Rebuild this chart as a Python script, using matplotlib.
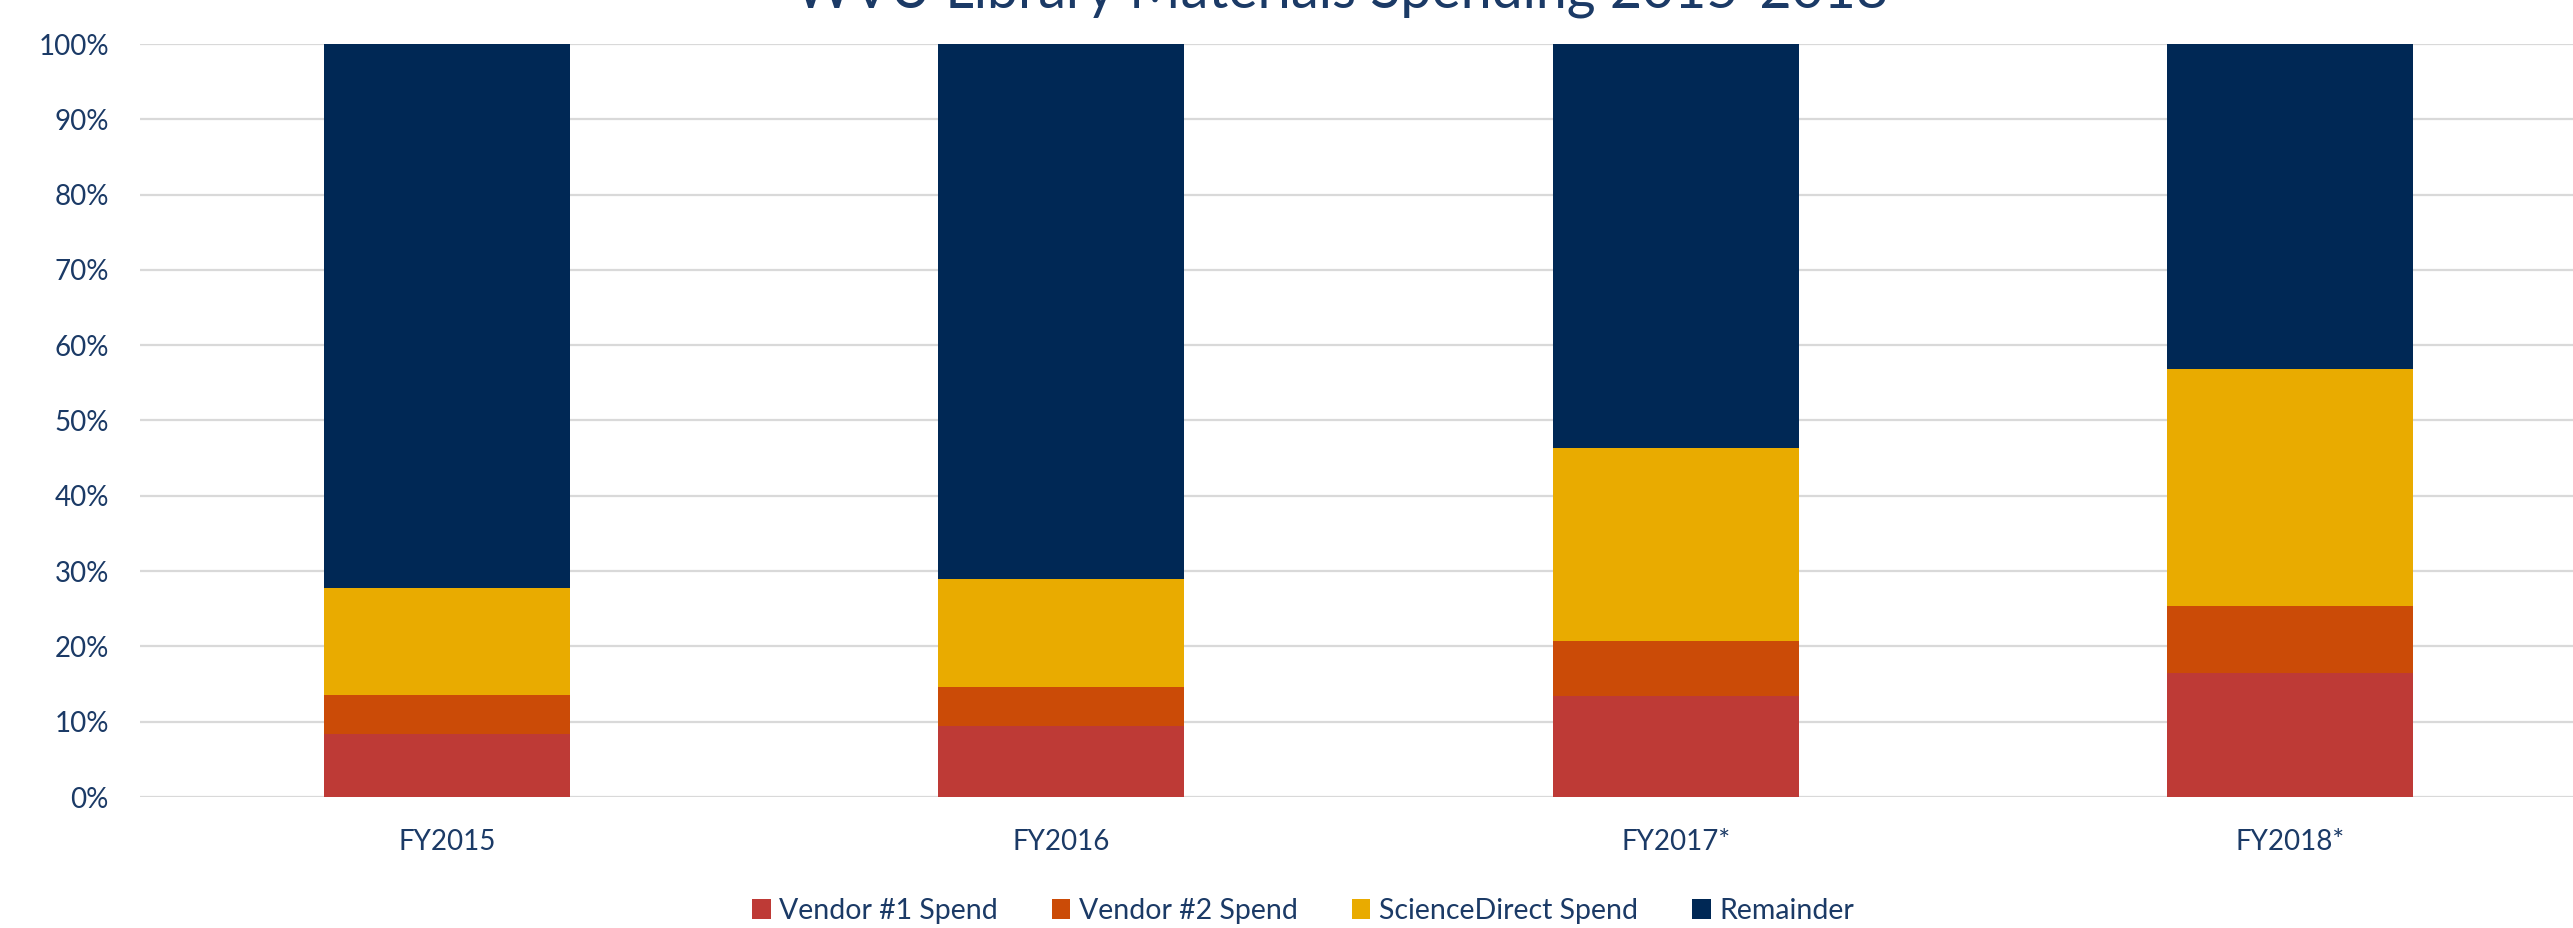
import matplotlib

matplotlib.use("Agg")
import matplotlib.pyplot as plt
from matplotlib.ticker import PercentFormatter

# share of materials spending per fiscal year (percent)
years = ["FY2015", "FY2016", "FY2017*", "FY2018*"]
vendor1 = [8.4, 9.4, 13.4, 16.5]
vendor2 = [5.2, 5.2, 7.3, 8.9]
sciencedirect = [14.1, 14.4, 25.6, 31.4]
remainder = [100 - a - b - c for a, b, c in zip(vendor1, vendor2, sciencedirect)]

series = [
    ("Vendor #1 Spend", vendor1, "#BE3A36"),
    ("Vendor #2 Spend", vendor2, "#CB4B07"),
    ("ScienceDirect Spend", sciencedirect, "#E9AB00"),
    ("Remainder", remainder, "#002855"),
]
TXT = "#1B3A66"

plt.rcParams["font.family"] = ["Lato", "DejaVu Sans"]

W, H = 2573, 928
fig = plt.figure(figsize=((W + 0.01) / 100, (H + 0.01) / 100), dpi=100)
ax = fig.add_axes([139.5 / W, 131 / H, 2458 / W, 753 / H])

x = range(len(years))
bottom = [0] * len(years)
for name, vals, color in series:
    ax.bar(x, vals, width=0.4, bottom=bottom, color=color, label=name, zorder=3)
    bottom = [b + v for b, v in zip(bottom, vals)]

ax.set_xlim(-0.5, 3.5)
ax.set_ylim(0, 100)
ax.set_yticks(range(0, 101, 10))
ax.yaxis.set_major_formatter(PercentFormatter(decimals=0))
ax.set_xticks(list(x))
ax.set_xticklabels(years)
ax.tick_params(axis="both", length=0, labelsize=20, labelcolor=TXT)
ax.tick_params(axis="y", pad=22)
ax.tick_params(axis="x", pad=23)
ax.grid(axis="y", color="#D9D9D9", lw=1.6, zorder=0)
for s in ax.spines.values():
    s.set_visible(False)

# title sits mostly above the top edge, as in the source image
fig.text(1342 / W, 1 - 7 / H, "WVU Library Materials Spending 2015-2018",
         ha="center", va="baseline", fontsize=40, color=TXT)

leg = fig.legend(loc="center", bbox_to_anchor=(1303 / W, 1 - 911 / H), ncol=4,
                 frameon=False, fontsize=20.5, handlelength=0.65, handleheight=0.65,
                 handletextpad=0.3, columnspacing=1.9)
for t in leg.get_texts():
    t.set_color(TXT)

fig.savefig("out.png", dpi=100)
